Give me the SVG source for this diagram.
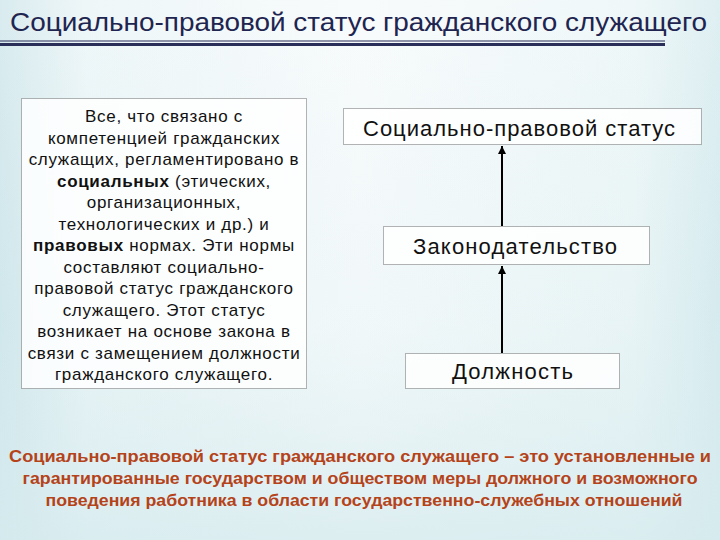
<svg xmlns="http://www.w3.org/2000/svg" width="720" height="540" viewBox="0 0 720 540">
  <defs>
    <linearGradient id="bgH" x1="0" y1="0" x2="1" y2="0">
      <stop offset="0" stop-color="#cde5ea"/>
      <stop offset="0.12" stop-color="#e9f4f6"/>
      <stop offset="0.5" stop-color="#f6fafb"/>
      <stop offset="0.88" stop-color="#eaf5f6"/>
      <stop offset="1" stop-color="#d4eaee"/>
    </linearGradient>
    <linearGradient id="bgV" x1="0" y1="0" x2="0" y2="1">
      <stop offset="0" stop-color="#ffffff" stop-opacity="0.25"/>
      <stop offset="0.6" stop-color="#dceef1" stop-opacity="0.2"/>
      <stop offset="1" stop-color="#d6ebee" stop-opacity="0.8"/>
    </linearGradient>
    <marker id="arr" viewBox="0 0 10 10" refX="10" refY="5" markerWidth="4" markerHeight="4" orient="auto">
      <path d="M0,0 L10,5 L0,10 z" fill="#000"/>
    </marker>
    <style>
      .box { fill: #ffffff; fill-opacity: 0.85; stroke: #6a6a6a; stroke-width: 1; stroke-dasharray: 1 1; }
      .t { font-family: "Liberation Sans", Arial, sans-serif; fill: #111; text-anchor: middle; }
      .body { font-size: 17px; letter-spacing: 0.7px; }
      .lbl { font-size: 22px; }
      .def { font-family: "Liberation Sans", Arial, sans-serif; font-weight: bold; font-size: 16px; fill: #b5431a; text-anchor: middle; }
      .conn { stroke: #000; stroke-width: 2; fill: none; marker-end: url(#arr); }
    </style>
  </defs>

  <rect x="0" y="0" width="720" height="540" fill="url(#bgH)"/>
  <rect x="0" y="0" width="720" height="540" fill="url(#bgV)"/>

  <g id="title">
    <text x="10" y="31" font-family="'Liberation Sans', Arial, sans-serif" font-size="25" fill="#1e2550" textLength="697" lengthAdjust="spacingAndGlyphs">Социально-правовой статус гражданского служащего</text>
    <line x1="0" y1="41" x2="665" y2="41" stroke="#2a2f5a" stroke-width="1"/>
    <line x1="0" y1="44.5" x2="665" y2="44.5" stroke="#2a2f5a" stroke-width="3"/>
  </g>

  <g id="description">
    <rect class="box" x="21.5" y="98.5" width="285" height="290"/>
    <text class="t body" x="164" y="122">Все, что связано с</text>
    <text class="t body" x="164" y="143.5">компетенцией гражданских</text>
    <text class="t body" x="164" y="165">служащих, регламентировано в</text>
    <text class="t body" x="164" y="186.5"><tspan font-weight="bold">социальных</tspan> (этических,</text>
    <text class="t body" x="164" y="208">организационных,</text>
    <text class="t body" x="164" y="229.5">технологических и др.) и</text>
    <text class="t body" x="164" y="251"><tspan font-weight="bold">правовых</tspan> нормах. Эти нормы</text>
    <text class="t body" x="164" y="272.5">составляют социально-</text>
    <text class="t body" x="164" y="294">правовой статус гражданского</text>
    <text class="t body" x="164" y="315.5">служащего. Этот статус</text>
    <text class="t body" x="164" y="337">возникает на основе закона в</text>
    <text class="t body" x="164" y="358.5">связи с замещением должности</text>
    <text class="t body" x="164" y="380">гражданского служащего.</text>
  </g>

  <g id="status">
    <rect class="box" x="343.5" y="108.5" width="358" height="36"/>
    <text class="t lbl" x="519" y="136" textLength="312" lengthAdjust="spacing">Социально-правовой статус</text>
  </g>

  <g id="legislation">
    <rect class="box" x="383.5" y="226.5" width="266" height="38"/>
    <text class="t lbl" x="515" y="254" textLength="204" lengthAdjust="spacing">Законодательство</text>
  </g>

  <g id="position">
    <rect class="box" x="405.5" y="353.5" width="214" height="35"/>
    <text class="t lbl" x="512.5" y="379" textLength="121" lengthAdjust="spacing">Должность</text>
  </g>

  <g id="connectors">
    <line class="conn" x1="502" y1="353" x2="502" y2="266"/>
    <line class="conn" x1="502" y1="226" x2="502" y2="146"/>
  </g>

  <g id="definition">
    <text class="def" x="360" y="462" textLength="702" lengthAdjust="spacingAndGlyphs">Социально-правовой статус гражданского служащего – это установленные и</text>
    <text class="def" x="360" y="484" textLength="675" lengthAdjust="spacingAndGlyphs">гарантированные государством и обществом меры должного и возможного</text>
    <text class="def" x="364" y="506" textLength="637" lengthAdjust="spacingAndGlyphs">поведения работника в области государственно-служебных отношений</text>
  </g>
</svg>
